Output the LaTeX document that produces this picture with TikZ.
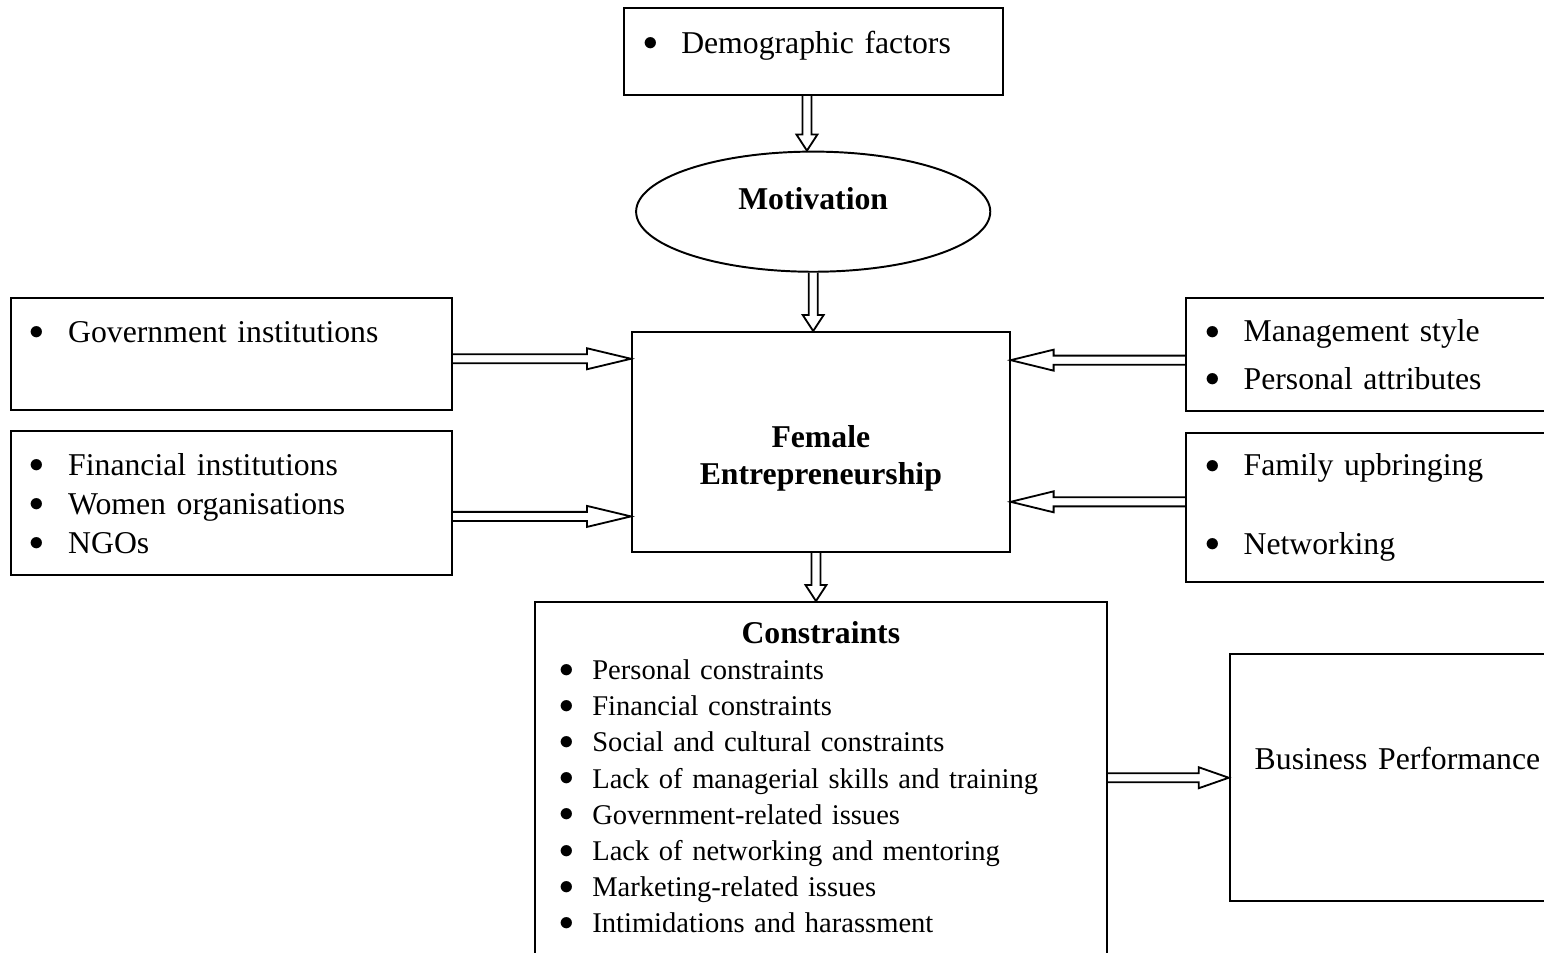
\documentclass[tikz,border=0pt]{standalone}
\usepackage{fontspec}
\setmainfont{Liberation Serif}
\usetikzlibrary{shapes.geometric, positioning, calc}

\newcommand{\itm}[2][0.55cm]{\makebox[#1][l]{\raisebox{0.08em}{$\bullet$}}#2}

\begin{document}
\begin{tikzpicture}[
    caja/.style={
        draw=black,
        line width=0.8pt,
        rectangle,
        inner xsep=0.28cm,
        align=left,
        font=\fontsize{13}{15.6}\selectfont
    },
    hueca/.style={
        line width=0.75pt,
        to path={
            let \p1=(\tikztostart), \p2=(\tikztotarget),
                \n1={atan2(\y2-\y1,\x2-\x1)},
                \n2={\n1+90}, \n3={\n1-90}, \n4={\n1+180} in
            ($(\p1)+(\n2:1.85pt)$)
            -- ($(\p2)+(\n4:#1)+(\n2:1.85pt)$)
            -- ($(\p2)+(\n4:#1)+(\n2:4.3pt)$)
            -- (\p2)
            -- ($(\p2)+(\n4:#1)+(\n3:4.3pt)$)
            -- ($(\p2)+(\n4:#1)+(\n3:1.85pt)$)
            -- ($(\p1)+(\n3:1.85pt)$)
        }
    }
]
\useasboundingbox (0,0) rectangle (22.234,-13.723);
\clip (0,0) rectangle (22.234,-13.723);

% Cadena central
\node (demographic) [caja, text width=4.9cm, minimum height=1.25cm, text depth=0.27cm]
    at (11.71,-0.74) {\itm{Demographic factors}};

\node (motivation) [ellipse, draw=black, line width=0.8pt, minimum width=5.10cm,
    minimum height=1.73cm, font=\fontsize{13}{15.6}\selectfont\bfseries,
    text depth=0.37cm, below=0.79cm of demographic] {Motivation};

\node (female) [caja, align=center, font=\fontsize{13}{15.2}\selectfont\bfseries,
    minimum width=5.44cm, minimum height=3.17cm, text height=1.32cm,
    below=0.84cm of motivation, xshift=0.11cm] {Female\\Entrepreneurship};

\node (constraints) [caja, text width=7.54cm, inner xsep=0.35cm, minimum height=5.46cm,
    text depth=4.58cm, font=\fontsize{11.7}{14.8}\selectfont, below=0.69cm of female]
    {\centerline{\fontsize{13}{14.8}\selectfont\bfseries Constraints}
     \itm[0.48cm]{Personal constraints}\\
     \itm[0.48cm]{Financial constraints}\\
     \itm[0.48cm]{Social and cultural constraints}\\
     \itm[0.48cm]{Lack of managerial skills and training}\\
     \itm[0.48cm]{Government-related issues}\\
     \itm[0.48cm]{Lack of networking and mentoring}\\
     \itm[0.48cm]{Marketing-related issues}\\
     \itm[0.48cm]{Intimidations and harassment}};

% Cajas laterales
\node (government) [caja, text width=5.80cm, minimum height=1.61cm, text depth=0.64cm,
    left=2.56cm of female.north west, anchor=north east, yshift=0.49cm]
    {\itm{Government institutions}};

\node (financial) [caja, text width=5.80cm, minimum height=2.07cm,
    font=\fontsize{13}{16}\selectfont,
    left=2.56cm of female.north west, anchor=north east, yshift=-1.43cm]
    {\itm{Financial institutions}\\\itm{Women organisations}\\\itm{NGOs}};

\node (management) [caja, text width=5.43cm, minimum height=1.63cm,
    font=\fontsize{13}{19.3}\selectfont,
    right=2.51cm of female.north east, anchor=north west, yshift=0.49cm]
    {\itm{Management style}\\\itm{Personal attributes}};

\node (family) [caja, text width=5.43cm, minimum height=2.15cm,
    font=\fontsize{13}{32}\selectfont,
    right=2.51cm of female.north east, anchor=north west, yshift=-1.45cm]
    {\itm{Family upbringing}\\\itm{Networking}};

\node (performance) [caja, text width=4.64cm, inner xsep=0.36cm, minimum height=3.56cm,
    text depth=0.56cm, right=1.74cm of constraints.north east, anchor=north west,
    yshift=-0.75cm] {Business Performance};

% Flechas huecas
\draw[hueca=6.6pt] ([xshift=-0.09cm]demographic.south) to ([xshift=-0.09cm]motivation.north);
\draw[hueca=6.6pt] (motivation.south) to (motivation.south |- female.north);
\draw[hueca=6.6pt] ([xshift=-0.07cm]female.south) to ([xshift=-0.07cm]constraints.north);
\draw[hueca=18pt] ([yshift=-0.07cm]government.east) to ([yshift=-0.07cm]government.east -| female.west);
\draw[hueca=18pt] ([yshift=-0.19cm]financial.east) to ([yshift=-0.19cm]financial.east -| female.west);
\draw[hueca=17.6pt] ([yshift=-0.08cm]management.west) to ([yshift=-0.08cm]management.west -| female.east);
\draw[hueca=17.6pt] ([yshift=0.08cm]family.west) to ([yshift=0.08cm]family.west -| female.east);
\draw[hueca=12.3pt] (performance.west -| constraints.east) to (performance.west);

\end{tikzpicture}
\end{document}
